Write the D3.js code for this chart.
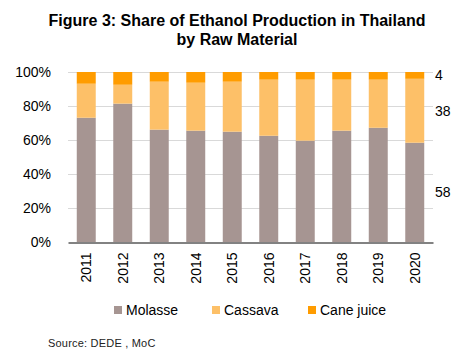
<!DOCTYPE html>
<meta charset="utf-8">
<script src="https://d3js.org/d3.v7.min.js"></script>
<style>
  body { margin: 0; background: #fff; }
  text { font-family: "Liberation Sans", Arial, sans-serif; }
</style>
<div id="chart"></div>
<script>

// data (shares in %)
var years    = ["2011","2012","2013","2014","2015","2016","2017","2018","2019","2020"];
var molasse  = [73.1, 81.4, 66.1, 65.5, 64.9, 62.5, 59.6, 65.5, 67.2, 58.4];
var cassava  = [20.0, 11.1, 28.2, 28.2, 29.4, 33.0, 35.9, 30.0, 28.3, 37.6];
var caneJuice= [6.9, 7.5, 5.7, 6.3, 5.7, 4.5, 4.5, 4.5, 4.5, 4.0];
var seriesNames = ["Molasse", "Cassava", "Cane juice"];
var seriesColors = ["#a69592", "#fdc068", "#ff9c00"];
var endLabels = ["58", "38", "4"];
var yTicks = [0, 20, 40, 60, 80, 100];

var W = 474, H = 359;
var margin = {top: 72, left: 68, right: 41, bottom: 117};

var svg = d3.select("#chart").append("svg")
    .attr("width", W)
    .attr("height", H);

// title
var title = svg.append("text")
    .attr("text-anchor", "middle")
    .attr("font-weight", "bold")
    .attr("font-size", 16)
    .attr("fill", "#000");
title.append("tspan").attr("x", 237).attr("y", 26).text("Figure 3: Share of Ethanol Production in Thailand");
title.append("tspan").attr("x", 237).attr("y", 45).text("by Raw Material");

var x = d3.scaleBand()
    .domain(years)
    .range([margin.left, W - margin.right])
    .paddingInner(0.48)
    .paddingOuter(0.24);

var y = d3.scaleLinear()
    .domain([0, 100])
    .range([H - margin.bottom, margin.top]);

// gridlines
svg.append("g")
  .selectAll("line")
  .data(yTicks.filter(function(d){ return d > 0; }))
  .enter().append("line")
    .attr("x1", margin.left)
    .attr("x2", W - margin.right)
    .attr("y1", function(d){ return Math.round(y(d)) + 0.5; })
    .attr("y2", function(d){ return Math.round(y(d)) + 0.5; })
    .attr("stroke", "#d9d9d9")
    .attr("stroke-width", 1);

// stacked bars
var table = years.map(function(yr, i) {
  return {year: yr, Molasse: molasse[i], Cassava: cassava[i], "Cane juice": caneJuice[i]};
});
var stack = d3.stack().keys(seriesNames);
var layers = stack(table);

svg.append("g")
  .selectAll("g")
  .data(layers)
  .enter().append("g")
    .attr("fill", function(d, i){ return seriesColors[i]; })
  .selectAll("rect")
  .data(function(d){ return d; })
  .enter().append("rect")
    .attr("x", function(d){ return x(d.data.year); })
    .attr("width", x.bandwidth())
    .attr("y", function(d){ return y(d[1]); })
    .attr("height", function(d){ return y(d[0]) - y(d[1]); });

// x axis
var xAxis = svg.append("g")
    .attr("transform", "translate(0," + (Math.round(y(0)) + 0.5) + ")")
    .call(d3.axisBottom(x).tickSize(0).tickSizeOuter(0));
xAxis.select(".domain").attr("stroke", "#595959").attr("stroke-width", 1.3);
xAxis.selectAll("text")
    .attr("font-family", "Liberation Sans, Arial, sans-serif")
    .attr("font-size", 14)
    .attr("fill", "#000")
    .attr("transform", "rotate(-90)")
    .attr("text-anchor", "end")
    .attr("x", -10)
    .attr("y", 0)
    .attr("dy", "0.36em");

// y axis
var yAxis = svg.append("g")
    .attr("transform", "translate(" + (margin.left - 14) + ",0)")
    .call(d3.axisLeft(y).tickValues(yTicks).tickSize(0).tickFormat(function(d){ return d + "%"; }));
yAxis.select(".domain").remove();
yAxis.selectAll("text")
    .attr("font-family", "Liberation Sans, Arial, sans-serif")
    .attr("font-size", 14)
    .attr("fill", "#000");

// end labels beside the last bar
var last = layers.map(function(l){ return l[l.length - 1]; });
svg.append("g")
  .selectAll("text")
  .data(last)
  .enter().append("text")
    .attr("x", W - margin.right + 2)
    .attr("y", function(d){ return y((d[0] + d[1]) / 2); })
    .attr("dy", "0.36em")
    .attr("font-size", 14)
    .attr("fill", "#000")
    .text(function(d, i){ return endLabels[i]; });

// legend
var legendX = [114, 212, 308];
var legend = svg.append("g")
  .selectAll("g")
  .data(seriesNames)
  .enter().append("g")
    .attr("transform", function(d, i){ return "translate(" + legendX[i] + ",310)"; });
legend.append("rect")
    .attr("x", 0).attr("y", -4)
    .attr("width", 8).attr("height", 8)
    .attr("fill", function(d, i){ return seriesColors[i]; });
legend.append("text")
    .attr("x", 12)
    .attr("dy", "0.36em")
    .attr("font-size", 14)
    .attr("fill", "#000")
    .text(function(d){ return d; });

// source
svg.append("text")
    .attr("x", 48)
    .attr("y", 347)
    .attr("font-size", 11)
    .attr("letter-spacing", 0.2)
    .attr("fill", "#222")
    .text("Source: DEDE , MoC");

</script>
